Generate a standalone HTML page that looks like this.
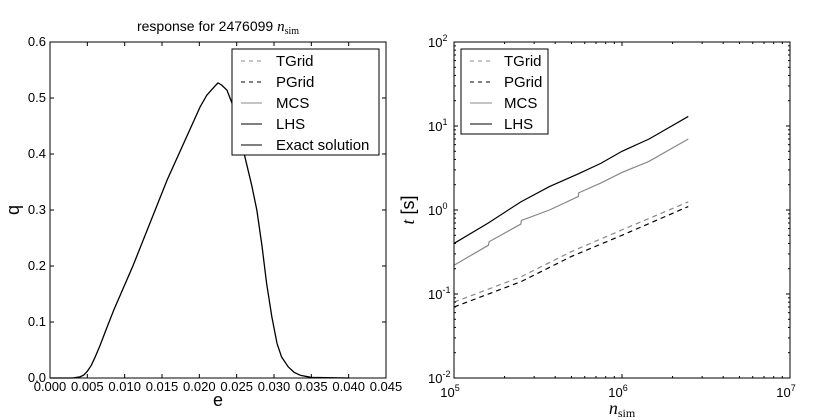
<!DOCTYPE html>
<html><head><meta charset="utf-8"><style>
html,body{margin:0;padding:0;background:#fff;}
svg{display:block;font-family:"Liberation Sans","DejaVu Sans",sans-serif;}
</style></head><body>
<svg id="fig" width="840" height="420" viewBox="0 0 840 420">
<rect width="840" height="420" fill="#fff"/>
<g id="left"></g>
<g id="right"></g>
</svg>
<script>
// ---- left chart data ----
const qE = [0,0.003,0.004,0.0045,0.005,0.0055,0.006,0.0067,0.0075,0.0085,0.0111,0.0157,0.0201,0.021,0.022,0.0225,0.023,0.0237,0.0244,0.025,0.0261,0.027,0.0277,0.0284,0.029,0.0297,0.0304,0.031,0.0319,0.0327,0.0335,0.035,0.04];
const qVals = [0,0,0.002,0.005,0.012,0.022,0.036,0.058,0.086,0.12,0.2,0.354,0.484,0.505,0.52,0.527,0.523,0.514,0.49,0.46,0.395,0.345,0.3,0.235,0.17,0.11,0.062,0.038,0.02,0.01,0.005,0.001,0];
const leftXTicks = ["0.000","0.005","0.010","0.015","0.020","0.025","0.030","0.035","0.040","0.045"];
const leftYTicks = ["0.0","0.1","0.2","0.3","0.4","0.5","0.6"];
// ---- right chart data ----
const nSim = [1e5,1.6e5,2.5e5,3.7e5,5.5e5,7.5e5,1e6,1.45e6,2.48e6];
const tLHS = [0.4,0.7,1.25,1.9,2.7,3.6,5.0,7.0,13];
const nMCS = [1e5,1.6e5,1.62e5,2.5e5,2.52e5,3.7e5,5.5e5,5.52e5,7.5e5,1e6,1.45e6,2.48e6];
const tMCS = [0.22,0.38,0.42,0.68,0.75,1.0,1.45,1.6,2.1,2.8,3.8,7];
const nGrid = [1e5,2.5e5,5e5,1e6,2.48e6];
const tTGrid = [0.08,0.16,0.32,0.58,1.25];
const tPGrid = [0.07,0.14,0.28,0.5,1.1];
const rightXExp = [5,6,7];
const rightYExp = [-2,-1,0,1,2];

const NS="http://www.w3.org/2000/svg";
function mk(parent,tag,attrs,text){const e=document.createElementNS(NS,tag);for(const k in attrs)e.setAttribute(k,attrs[k]);if(text!==undefined)e.textContent=text;parent.appendChild(e);return e;}

// LEFT
const L=document.getElementById('left');
const lx0=50,lx1=386,ly0=42,ly1=378;
const lxs=v=>lx0+v/0.045*(lx1-lx0);
const lys=v=>ly1-v/0.6*(ly1-ly0);
let d=qE.map((e,i)=>(i?'L':'M')+lxs(e).toFixed(2)+','+lys(qVals[i]).toFixed(2)).join('');
let p=mk(L,'path',{d:d,fill:'none',stroke:'#000','stroke-width':1.3,'stroke-linejoin':'round'});


leftXTicks.forEach(t=>{const x=lxs(+t);
 mk(L,'line',{x1:x,x2:x,y1:ly1,y2:ly1-4,stroke:'#000'});mk(L,'line',{x1:x,x2:x,y1:ly0,y2:ly0+4,stroke:'#000'});
 const tx=mk(L,'text',{x:x,y:ly1+13,'font-size':13,'text-anchor':'middle'},t);
 
 });
leftYTicks.forEach(t=>{const y=lys(+t);
 mk(L,'line',{x1:lx0,x2:lx0+4,y1:y,y2:y,stroke:'#000'});mk(L,'line',{x1:lx1,x2:lx1-4,y1:y,y2:y,stroke:'#000'});
 const tx=mk(L,'text',{x:lx0-4,y:y+4,'font-size':13,'text-anchor':'end'},t);
 
 });
mk(L,'rect',{x:lx0,y:ly0,width:lx1-lx0,height:ly1-ly0,fill:'none',stroke:'#000'});
let t=mk(L,'text',{x:218,y:406,'font-size':18,'text-anchor':'middle'},'e');

t=mk(L,'text',{x:0,y:0,'font-size':18,'text-anchor':'middle',transform:'translate(19,210) rotate(-90)'},'q');

t=mk(L,'text',{x:218,y:31,'font-size':14,'text-anchor':'middle'});
t.innerHTML='response for 2476099 <tspan font-family="Liberation Serif" font-style="italic" font-size="15">n</tspan><tspan font-family="Liberation Serif" font-size="10" dy="3">sim</tspan>';

// left legend
const lg=mk(L,'g',{});

mk(lg,'rect',{x:232,y:49,width:147,height:106,fill:'#fff',stroke:'#000'});
const legL=[['TGrid','#888','4,4'],['PGrid','#000','4,4'],['MCS','#888',''],['LHS','#000',''],['Exact solution','#000','']];
legL.forEach((l,i)=>{const y=61+i*21;
 mk(lg,'line',{x1:241,x2:262,y1:y,y2:y,stroke:l[1],'stroke-dasharray':l[2]});
 const e=mk(lg,'text',{x:276,y:y+5,'font-size':15},l[0]);
 });

// RIGHT
const R=document.getElementById('right');
const rx0=454,rx1=790,ry0=42,ry1=378;
const rxs=v=>rx0+(Math.log10(v)-5)/2*(rx1-rx0);
const rys=v=>ry1-(Math.log10(v)+2)/4*(ry1-ry0);
function line(xs,ys,col,dash,name){const dd=xs.map((x,i)=>(i?'L':'M')+rxs(x).toFixed(2)+','+rys(ys[i]).toFixed(2)).join('');
 const e=mk(R,'path',{d:dd,fill:'none',stroke:col,'stroke-width':1.2,'stroke-dasharray':dash});
 }
line(nGrid,tTGrid,'#888','5,4','tgrid-line');
line(nGrid,tPGrid,'#000','5,4','pgrid-line');
line(nMCS,tMCS,'#888','','mcs-line');
line(nSim,tLHS,'#000','','lhs-line');
for(let e=5;e<7;e++)for(let m=2;m<10;m++){const x=rxs(m*Math.pow(10,e));
 mk(R,'line',{x1:x,x2:x,y1:ry1,y2:ry1-2,stroke:'#000'});mk(R,'line',{x1:x,x2:x,y1:ry0,y2:ry0+2,stroke:'#000'});}
for(let e=-2;e<2;e++)for(let m=2;m<10;m++){const y=rys(m*Math.pow(10,e));
 mk(R,'line',{x1:rx0,x2:rx0+2,y1:y,y2:y,stroke:'#000'});mk(R,'line',{x1:rx1,x2:rx1-2,y1:y,y2:y,stroke:'#000'});}
rightXExp.forEach(e=>{const x=rxs(Math.pow(10,e));
 mk(R,'line',{x1:x,x2:x,y1:ry1,y2:ry1-4,stroke:'#000'});mk(R,'line',{x1:x,x2:x,y1:ry0,y2:ry0+4,stroke:'#000'});
 const tx=mk(R,'text',{x:x-4,y:ry1+19,'font-size':13,'text-anchor':'middle'});
 tx.innerHTML='10<tspan font-size="9" dy="-6">'+e+'</tspan>';
 });
rightYExp.forEach(e=>{const y=rys(Math.pow(10,e));
 mk(R,'line',{x1:rx0,x2:rx0+4,y1:y,y2:y,stroke:'#000'});mk(R,'line',{x1:rx1,x2:rx1-4,y1:y,y2:y,stroke:'#000'});
 const tx=mk(R,'text',{x:rx0-26,y:y+5,'font-size':13,'text-anchor':'start'});
 tx.innerHTML='10<tspan font-size="9" dy="-6">'+e+'</tspan>';
 });
mk(R,'rect',{x:rx0,y:ry0,width:rx1-rx0,height:ry1-ry0,fill:'none',stroke:'#000'});
t=mk(R,'text',{x:622,y:414,'font-size':18,'text-anchor':'middle','font-family':'Liberation Serif'});
t.innerHTML='<tspan font-style="italic">n</tspan><tspan font-size="12" dy="3">sim</tspan>';

t=mk(R,'text',{x:0,y:0,'font-size':18,'text-anchor':'middle',transform:'translate(414,210) rotate(-90)'});
t.innerHTML='<tspan font-family="Liberation Serif" font-style="italic">t</tspan> [s]';

const rg=mk(R,'g',{});

mk(rg,'rect',{x:461,y:49,width:87,height:85,fill:'#fff',stroke:'#000'});
legL.slice(0,4).forEach((l,i)=>{const y=61+i*21;
 mk(rg,'line',{x1:470,x2:492,y1:y,y2:y,stroke:l[1],'stroke-dasharray':l[2]});
 const e=mk(rg,'text',{x:504,y:y+5,'font-size':15},l[0]);
 });
</script>
</body></html>
